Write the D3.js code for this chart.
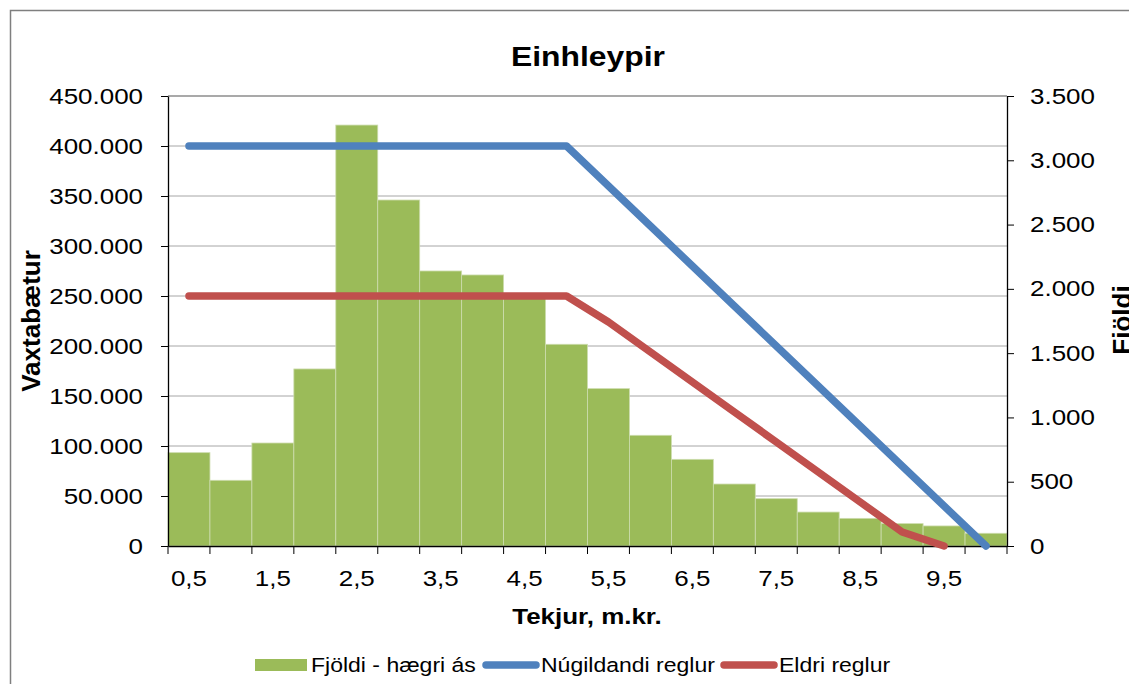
<!DOCTYPE html>
<html>
<head>
<meta charset="utf-8">
<script src="https://cdn.jsdelivr.net/npm/d3@7"></script>
<style>
  body { margin: 0; background: #fff; }
  text { font-family: "Liberation Sans", Arial, sans-serif; fill: #000; }
</style>
</head>
<body>
<svg id="chart"></svg>
<script>
// tekjur (m.kr.), one bar per half million
const categories = [0.5, 1, 1.5, 2, 2.5, 3, 3.5, 4, 4.5, 5, 5.5, 6, 6.5, 7, 7.5, 8, 8.5, 9, 9.5, 10];
const tickLabels = ["0,5", "1,5", "2,5", "3,5", "4,5", "5,5", "6,5", "7,5", "8,5", "9,5"];

// Fjöldi - right axis
const fjoldi = [726, 511, 801, 1377, 3274, 2691, 2139, 2108, 1925, 1569,
                1224, 861, 674, 482, 368, 264, 215, 174, 156, 99];
// Vaxtabætur - left axis
const nugildandi = [400000, 400000, 400000, 400000, 400000, 400000, 400000, 400000, 400000, 400000,
                    360000, 320000, 280000, 240000, 200000, 160000, 120000, 80000, 40000, 0];
const eldri = [250000, 250000, 250000, 250000, 250000, 250000, 250000, 250000, 250000, 250000,
               224000, 194000, 164000, 134000, 104000, 74000, 44000, 14000, 0, null];

const leftTicks = [0, 50000, 100000, 150000, 200000, 250000, 300000, 350000, 400000, 450000];
const rightTicks = [0, 500, 1000, 1500, 2000, 2500, 3000, 3500];

const green = "#9bbb59", blue = "#4f81bd", red = "#c0504d";
const SX = 1.18; // text in the picture is a bit wide

const W = 1129, H = 684;
const plot = { left: 168, right: 1007, top: 96, bottom: 546 };

const svg = d3.select("#chart").attr("width", W).attr("height", H);

// outer frame (runs off the right/bottom edge)
svg.append("rect")
  .attr("x", 10.5).attr("y", 10.5)
  .attr("width", 1200).attr("height", 800)
  .attr("fill", "none").attr("stroke", "#7f7f7f").attr("stroke-width", 1.5);

const x = d3.scaleBand()
  .domain(categories)
  .range([plot.left, plot.right])
  .padding(0);

const yLeft = d3.scaleLinear().domain([0, 450000]).range([plot.bottom, plot.top]);
const yRight = d3.scaleLinear().domain([0, 3500]).range([plot.bottom, plot.top]);

const fmt = d => d3.format(",")(d).replace(/,/g, ".");

// gridlines
svg.append("g")
  .selectAll("line")
  .data(leftTicks.slice(1))
  .join("line")
  .attr("x1", plot.left).attr("x2", plot.right)
  .attr("y1", d => yLeft(d)).attr("y2", d => yLeft(d))
  .attr("stroke", d => d === 450000 ? "#8c8c8c" : "#a6a6a6")
  .attr("stroke-width", d => d === 450000 ? 1.5 : 1);

// bars
svg.append("g")
  .selectAll("rect")
  .data(categories)
  .join("rect")
  .attr("x", d => x(d))
  .attr("y", (d, i) => yRight(fjoldi[i]))
  .attr("width", x.bandwidth())
  .attr("height", (d, i) => yRight(0) - yRight(fjoldi[i]))
  .attr("fill", green)
  .attr("stroke", "#cddcae")
  .attr("stroke-width", 0.8);

// left axis
const gLeft = svg.append("g")
  .attr("transform", `translate(${plot.left},0)`)
  .call(d3.axisLeft(yLeft).tickValues(leftTicks).tickFormat(fmt)
    .tickSizeInner(7).tickSizeOuter(0).tickPadding(14.2));

// right axis
const gRight = svg.append("g")
  .attr("transform", `translate(${plot.right},0)`)
  .call(d3.axisRight(yRight).tickValues(rightTicks).tickFormat(fmt)
    .tickSizeInner(7).tickSizeOuter(0).tickPadding(12.5));

// bottom axis: labels every other category, tick marks between bars
const gBottom = svg.append("g")
  .attr("transform", `translate(0,${plot.bottom})`)
  .call(d3.axisBottom(x)
    .tickValues(categories.filter((d, i) => i % 2 === 0))
    .tickFormat((d, i) => tickLabels[i])
    .tickSize(0).tickPadding(24.4));

gBottom.append("g")
  .selectAll("line")
  .data(categories.concat(["end"]))
  .join("line")
  .attr("x1", d => d === "end" ? plot.right : x(d))
  .attr("x2", d => d === "end" ? plot.right : x(d))
  .attr("y1", 0).attr("y2", 8)
  .attr("stroke", "#000");

[gLeft, gRight, gBottom].forEach(g => {
  g.selectAll(".domain").attr("stroke", "#000").attr("stroke-width", 1.3);
  g.selectAll(".tick line").attr("stroke", "#000");
  g.selectAll("text")
    .attr("font-family", "Liberation Sans, Arial, sans-serif")
    .attr("font-size", 22)
    .attr("fill", "#000")
    .attr("transform", `scale(${SX},1)`);
});

// lines
const line = d3.line()
  .defined(d => d[1] != null)
  .x(d => x(d[0]) + x.bandwidth() / 2)
  .y(d => yLeft(d[1]));

[[nugildandi, blue], [eldri, red]].forEach(([vals, col]) => {
  svg.append("path")
    .datum(categories.map((c, i) => [c, vals[i]]))
    .attr("d", line)
    .attr("fill", "none")
    .attr("stroke", col)
    .attr("stroke-width", 7.5)
    .attr("stroke-linecap", "round")
    .attr("stroke-linejoin", "round");
});

// texts
function label(px, py, txt, size, weight, anchor) {
  svg.append("text")
    .attr("transform", `translate(${px},${py}) scale(${SX},1)`)
    .attr("text-anchor", anchor || "middle")
    .attr("font-size", size)
    .attr("font-weight", weight || "normal")
    .text(txt);
}

label(588, 66, "Einhleypir", 27, "bold");
label(587, 624, "Tekjur, m.kr.", 22, "bold");

svg.append("text")
  .attr("transform", "translate(40,321) rotate(-90)")
  .attr("text-anchor", "middle")
  .attr("font-size", 26).attr("font-weight", "bold")
  .text("Vaxtabætur");

svg.append("text")
  .attr("transform", "translate(1131,320) rotate(-90)")
  .attr("text-anchor", "middle")
  .attr("font-size", 26).attr("font-weight", "bold")
  .text("Fjöldi");

// legend
const legend = svg.append("g").attr("transform", "translate(0,665)");

legend.append("rect")
  .attr("x", 255).attr("y", -6).attr("width", 52).attr("height", 12)
  .attr("fill", green);
legend.append("text")
  .attr("transform", `translate(311,7) scale(${SX},1)`)
  .attr("font-size", 19.5).text("Fjöldi - hægri ás");

legend.append("line")
  .attr("x1", 486).attr("x2", 536).attr("y1", 0).attr("y2", 0)
  .attr("stroke", blue).attr("stroke-width", 7.5).attr("stroke-linecap", "round");
legend.append("text")
  .attr("transform", `translate(541,7) scale(${SX},1)`)
  .attr("font-size", 19.5).text("Núgildandi reglur");

legend.append("line")
  .attr("x1", 724).attr("x2", 774).attr("y1", 0).attr("y2", 0)
  .attr("stroke", red).attr("stroke-width", 7.5).attr("stroke-linecap", "round");
legend.append("text")
  .attr("transform", `translate(779,7) scale(${SX},1)`)
  .attr("font-size", 19.5).text("Eldri reglur");
</script>
</body>
</html>
